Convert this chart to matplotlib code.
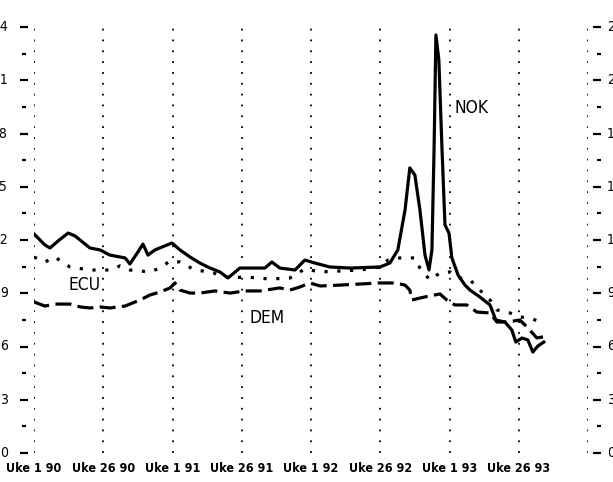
import matplotlib
matplotlib.use("Agg")
import matplotlib.pyplot as plt
import matplotlib.transforms as mtransforms
from matplotlib import font_manager

# weeks counted from Uke 1 90
nok_weeks = [0, 4.1, 6.0, 9.0, 12.8, 15.4, 21.0, 24.8, 28.5, 34.2, 36.0, 39.0, 40.9, 42.8,
             45.4, 51.8, 54.8, 58.6, 62.3, 66.1, 69.8, 72.8, 77.3, 83.0, 86.7, 89.3, 92.3,
             98.0, 101.7, 105.5, 111.1, 118.6, 129.9, 133.6, 136.6, 139.3, 141.1, 143.0,
             144.9, 146.8, 148.3, 149.4, 150.2, 150.9, 152.0, 153.2, 154.3, 155.8, 156.9,
             159.2, 161.8, 163.7, 167.4, 171.2, 173.4, 176.8, 179.4, 180.9, 183.2, 185.4,
             187.3, 189.2, 191.4]
nok_values = [12.34, 11.72, 11.55, 11.94, 12.39, 12.23, 11.55, 11.44, 11.15, 10.99, 10.65,
              11.32, 11.77, 11.15, 11.44, 11.83, 11.44, 11.04, 10.70, 10.42, 10.20, 9.86,
              10.42, 10.42, 10.42, 10.76, 10.42, 10.31, 10.87, 10.70, 10.48, 10.42, 10.48,
              10.70, 11.44, 13.69, 16.06, 15.66, 13.69, 11.15, 10.31, 11.44, 17.07, 23.55,
              22.14, 17.07, 12.85, 12.39, 10.99, 10.03, 9.46, 9.18, 8.79, 8.34, 7.49, 7.38,
              6.93, 6.25, 6.48, 6.37, 5.69, 6.03, 6.25]

ecu_weeks = [0, 4.1, 7.9, 10.5, 13.5, 21.0, 28.5, 32.3, 36.0, 43.5, 47.3, 51.1, 54.8, 60.4,
             66.1, 73.6, 79.2, 88.6, 96.1, 101.7, 107.4, 122.4, 129.9, 132.9, 137.4, 143.0,
             144.9, 148.6, 152.4, 156.2, 159.9, 163.7, 167.4, 171.2, 173.8, 178.7, 182.4,
             186.2, 191.1]
ecu_values = [11.04, 10.76, 11.04, 10.76, 10.48, 10.31, 10.31, 10.54, 10.31, 10.20, 10.42,
              10.82, 10.76, 10.31, 10.20, 9.86, 9.92, 9.80, 9.86, 10.37, 10.20, 10.31, 10.48,
              10.87, 10.99, 10.99, 10.42, 9.75, 10.14, 10.20, 9.86, 9.75, 9.18, 8.62, 8.06,
              7.89, 7.66, 7.61, 7.32]

dem_weeks = [0, 4.1, 7.9, 13.5, 17.3, 21.0, 24.8, 28.5, 34.2, 39.8, 43.5, 47.3, 51.1, 52.9,
             54.8, 58.6, 62.3, 67.9, 73.6, 79.2, 84.8, 92.3, 96.1, 99.8, 103.6, 107.4, 114.9,
             122.4, 129.9, 135.5, 139.3, 141.1, 141.9, 144.9, 148.6, 152.4, 155.0, 158.0,
             162.5, 166.3, 171.2, 173.8, 177.6, 182.4, 185.1, 188.8, 191.1]
dem_values = [8.51, 8.28, 8.39, 8.39, 8.23, 8.17, 8.23, 8.17, 8.28, 8.62, 8.90, 9.07, 9.30,
              9.58, 9.18, 9.01, 9.01, 9.13, 9.01, 9.13, 9.13, 9.30, 9.18, 9.35, 9.58, 9.41,
              9.46, 9.52, 9.58, 9.58, 9.46, 9.18, 8.62, 8.73, 8.85, 8.96, 8.62, 8.34, 8.34,
              7.94, 7.89, 7.38, 7.38, 7.49, 7.10, 6.48, 6.54]

grid_weeks = [0, 26, 52, 78, 104, 130, 156, 182, 208]
x_labels = ["Uke 1 90", "Uke 26 90", "Uke 1 91", "Uke 26 91", "Uke 1 92", "Uke 26 92",
            "Uke 1 93", "Uke 26 93"]
y_major = [0, 3, 6, 9, 12, 15, 18, 21, 24]
y_minor = [1.5, 4.5, 7.5, 10.5, 13.5, 16.5, 19.5, 22.5]

# narrow face if there is one
names = {f.name for f in font_manager.fontManager.ttflist}
if "Liberation Sans Narrow" in names:
    narrow = dict(family="Liberation Sans Narrow")
else:
    narrow = dict(family="DejaVu Sans", fontstretch="condensed")

fig = plt.figure(figsize=(6.13, 4.82), dpi=100)
ax = fig.add_axes([34 / 613, 29 / 482, 554 / 613, 426 / 482])
ax.set_xlim(0, 208)
ax.set_ylim(0, 24)
for s in ax.spines.values():
    s.set_visible(False)
ax.set_xticks([])
ax.set_yticks([])

for w in grid_weeks:
    ax.axvline(w, color="black", lw=1.3, linestyle=(0, (1, 5)))

ax.plot(nok_weeks, nok_values, color="black", lw=2.3, solid_joinstyle="round")
ax.plot(ecu_weeks, ecu_values, color="black", lw=2.3, linestyle=(0, (1, 3)))
ax.plot(dem_weeks, dem_values, color="black", lw=2.3, linestyle=(0, (5, 2)))

ax.text(18.8, 9.46, "ECU", fontsize=12.5, ha="center", va="center", **narrow)
ax.text(87.5, 7.6, "DEM", fontsize=12.5, ha="center", va="center", **narrow)
ax.text(164.4, 19.44, "NOK", fontsize=12.5, ha="center", va="center", **narrow)

# y tick marks on both sides, set away from the dotted frame lines
trans = mtransforms.blended_transform_factory(ax.transAxes, ax.transData)
ax.plot([-10.5 / 554] * len(y_major), y_major, marker="_", ms=5.5, mew=1.6, ls="none",
        color="black", transform=trans, clip_on=False)
ax.plot([-10.5 / 554] * len(y_minor), y_minor, marker="_", ms=2.5, mew=1.6, ls="none",
        color="black", transform=trans, clip_on=False)
ax.plot([9 / 554 + 1] * len(y_major), y_major, marker="_", ms=5.5, mew=1.6, ls="none",
        color="black", transform=trans, clip_on=False)
ax.plot([11 / 554 + 1] * len(y_minor), y_minor, marker="_", ms=2.5, mew=1.6, ls="none",
        color="black", transform=trans, clip_on=False)
for v in y_major:
    ax.text(-26 / 554, v, str(v), fontsize=10, ha="right", va="center",
            transform=trans, **narrow)
    ax.text(1 + 19 / 554, v, str(v), fontsize=10, ha="left", va="center",
            transform=trans, **narrow)

for w, lab in zip(grid_weeks, x_labels):
    ax.text(w, -0.9, lab, fontsize=9, fontweight="bold", ha="center",
            va="center", **narrow)

fig.savefig("out.png", dpi=100)
